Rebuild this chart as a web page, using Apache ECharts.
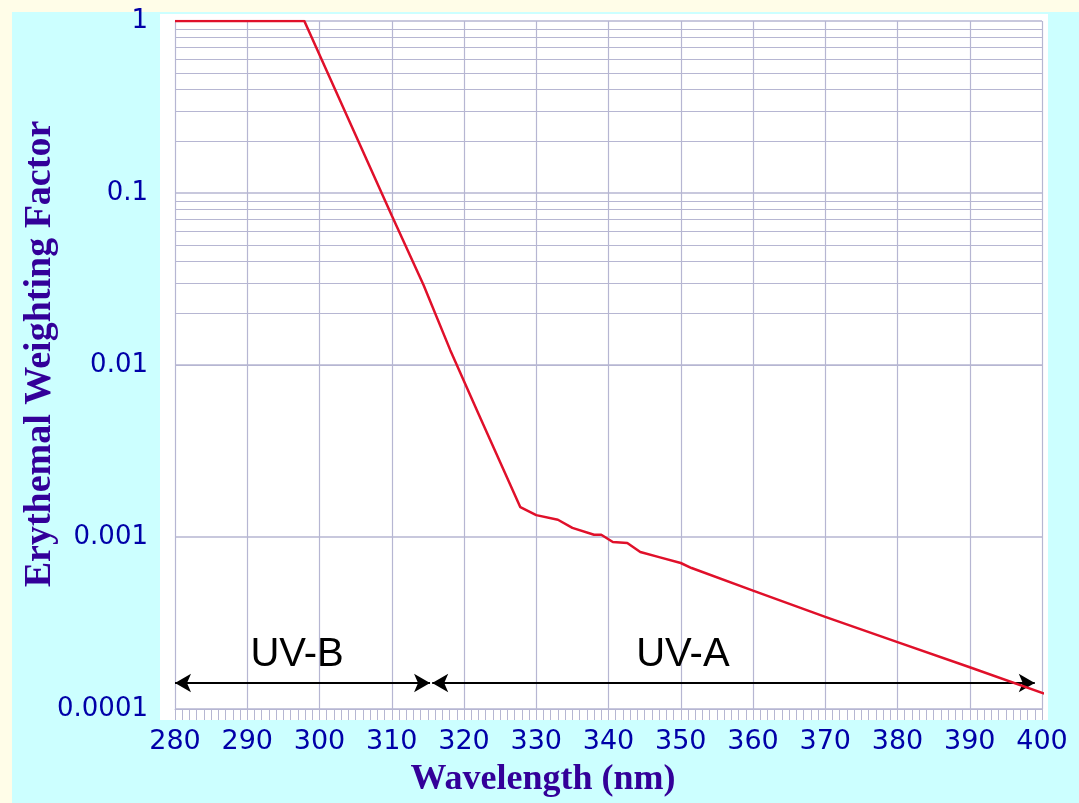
<!DOCTYPE html>
<html>
<head>
<meta charset="utf-8">
<script src="https://cdn.jsdelivr.net/npm/echarts@6/dist/echarts.min.js"></script>
<style>
html,body{margin:0;padding:0;background:#ccffff;}
#chart{width:1079px;height:803px;}
</style>
</head>
<body>
<div id="chart"></div>
<script>
// Wavelength (nm) and erythemal weighting factor
const wavelengths = [280, 297.9, 310, 314.4, 318.1, 322, 327.8, 330, 333, 335, 338, 339, 340.6, 342.6, 344.4, 347, 350, 351.5, 360, 370, 380, 390, 400.3];
const factors = [1, 1, 0.074, 0.0292, 0.0122, 0.0052, 0.00149, 0.00134, 0.00126, 0.00113, 0.00103, 0.00103, 0.000935, 0.000923, 0.000818, 0.000764, 0.000706, 0.00066, 0.000488, 0.000343, 0.000245, 0.000175, 0.000123];

const xTicks = [280, 290, 300, 310, 320, 330, 340, 350, 360, 370, 380, 390, 400];
const yTickValues = [0.0001, 0.001, 0.01, 0.1, 1];
const yTickLabels = ['0.0001', '0.001', '0.01', '0.1', '1'];

// Band annotations
const bandNames = ['UV-B', 'UV-A'];
const bandStart = [280, 315.6];
const bandEnd = [315.3, 399];
const bandLabelX = [296.9, 350.3];
const arrowLevel = 0.0001416;
const bandLabelLevel = 0.000205;

const minorMultipliers = [2, 3, 4, 5, 6, 7, 8, 9];
const decades = [0.0001, 0.001, 0.01, 0.1];

const minorLines = [];
decades.forEach(d => minorMultipliers.forEach(m => minorLines.push({ yAxis: +(d * m).toPrecision(3) })));

const gridColor = '#b6b6d2';

const chart = echarts.init(document.getElementById('chart'), null, { renderer: 'canvas' });

const option = {
  backgroundColor: '#ccffff',
  animation: false,
  graphic: [
    { type: 'rect', z: -100, silent: true, shape: { x: 0, y: 0, width: 1079, height: 12 }, style: { fill: '#fffde8' } },
    { type: 'rect', z: -100, silent: true, shape: { x: 0, y: 0, width: 12, height: 803 }, style: { fill: '#fffde8' } },
    { type: 'rect', z: -99, silent: true, shape: { x: 160, y: 14, width: 888, height: 706 }, style: { fill: '#ffffff' } },
    { type: 'text', z: 10, silent: true, x: 543, y: 780,
      style: { text: 'Wavelength (nm)', font: 'bold 36px "Liberation Serif", serif', fill: '#330099', textAlign: 'center', textVerticalAlign: 'middle' } },
    { type: 'text', z: 10, silent: true, x: 40, y: 354, rotation: Math.PI / 2,
      style: { text: 'Erythemal Weighting Factor', font: 'bold 38px "Liberation Serif", serif', fill: '#330099', textAlign: 'center', textVerticalAlign: 'middle' } }
  ],
  grid: { left: 175, right: 37, top: 21, bottom: 94, containLabel: false },
  xAxis: {
    type: 'value',
    min: 280, max: 400, interval: 10,
    axisLine: { show: true, lineStyle: { color: gridColor, width: 1 } },
    axisTick: { show: true, length: 11, lineStyle: { color: gridColor } },
    minorTick: { show: true, splitNumber: 10, length: 11, lineStyle: { color: gridColor } },
    splitLine: { show: true, lineStyle: { color: gridColor, width: 1.2 } },
    axisLabel: {
      margin: 19, color: '#0000a8', fontSize: 27, fontFamily: 'DejaVu Sans',
      formatter: v => (xTicks.indexOf(v) >= 0 ? String(v) : '')
    }
  },
  yAxis: {
    type: 'log', logBase: 10, min: 0.0001, max: 1,
    axisLine: { show: false },
    axisTick: { show: false },
    splitLine: { show: true, lineStyle: { color: gridColor, width: 1.5 } },
    axisLabel: {
      margin: 27, color: '#0000a8', fontSize: 26, fontFamily: 'DejaVu Sans',
      padding: [8, 0, 0, 0],
      formatter: v => {
        for (let i = 0; i < yTickValues.length; i++) {
          if (Math.abs(Math.log10(v) - Math.log10(yTickValues[i])) < 1e-6) return yTickLabels[i];
        }
        return '';
      }
    }
  },
  series: [
    {
      type: 'line', name: 'grid', data: [], silent: true, z: 1,
      markLine: {
        silent: true, symbol: ['none', 'none'], animation: false,
        label: { show: false },
        lineStyle: { color: gridColor, width: 1.2, type: 'solid' },
        data: minorLines
      }
    },
    {
      type: 'line',
      name: 'Erythemal',
      data: wavelengths.map((w, i) => [w, factors[i]]),
      showSymbol: false,
      smooth: false,
      z: 5,
      lineStyle: { color: '#e0102a', width: 2.5 },
      markLine: {
        silent: true, animation: false,
        symbol: ['arrow', 'arrow'], symbolSize: [14, 16],
        label: { show: false },
        lineStyle: { color: '#000000', width: 2, type: 'solid' },
        data: bandNames.map((n, i) => [
          { coord: [bandStart[i], arrowLevel] },
          { coord: [bandEnd[i], arrowLevel] }
        ])
      },
      markPoint: {
        silent: true, animation: false,
        symbol: 'circle', symbolSize: 0,
        label: {
          show: true, position: 'inside', color: '#000000',
          fontSize: 40, fontFamily: '"Liberation Sans", Arial, sans-serif',
          formatter: p => p.name
        },
        data: bandNames.map((n, i) => ({ name: n, coord: [bandLabelX[i], bandLabelLevel] }))
      }
    }
  ]
};

chart.setOption(option);
</script>
</body>
</html>
